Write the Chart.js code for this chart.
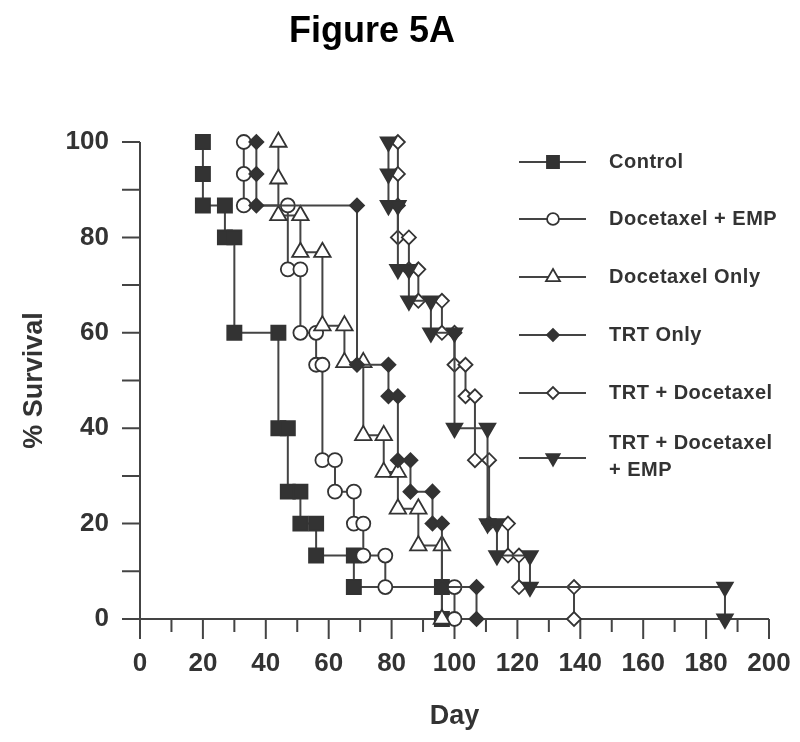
<!DOCTYPE html>
<html>
<head>
<meta charset="utf-8">
<script src="https://cdn.jsdelivr.net/npm/chart.js@4.4.1/dist/chart.umd.min.js"></script>
<style>
  html, body { margin: 0; padding: 0; background: #fff; }
  #wrap { position: relative; width: 800px; height: 742px; }
  #titulo { position: absolute; left: 0; top: 9px; width: 744px; text-align: center;
            font: bold 36px "Liberation Sans", Arial, sans-serif; color: #000; }
  canvas { position: absolute; left: 0; top: 0; }
</style>
</head>
<body>
<div id="wrap">
  <canvas id="grafico" width="800" height="742"></canvas>
  <div id="titulo">Figure 5A</div>
</div>
<script>
// dias e % de sobrevida (cada degrau tem os dois cantos)
const controlDays = [20, 20, 20, 27, 27, 30, 30, 44, 44, 47, 47, 51, 51, 56, 56, 68, 68, 96, 96];
const controlSurv = [100, 93.3, 86.7, 86.7, 80, 80, 60, 60, 40, 40, 26.7, 26.7, 20, 20, 13.3, 13.3, 6.7, 6.7, 0];

const docEmpDays = [33, 33, 33, 47, 47, 51, 51, 56, 56, 58, 58, 62, 62, 68, 68, 71, 71, 78, 78, 100, 100];
const docEmpSurv = [100, 93.3, 86.7, 86.7, 73.3, 73.3, 60, 60, 53.3, 53.3, 33.3, 33.3, 26.7, 26.7, 20, 20, 13.3, 13.3, 6.7, 6.7, 0];

const docOnlyDays = [44, 44, 44, 51, 51, 58, 58, 65, 65, 71, 71, 77.5, 77.5, 82, 82, 88.5, 88.5, 96, 96];
const docOnlySurv = [100, 92.3, 84.6, 84.6, 76.9, 76.9, 61.5, 61.5, 53.8, 53.8, 38.5, 38.5, 30.8, 30.8, 23.1, 23.1, 15.4, 15.4, 0];

const trtOnlyDays = [37, 37, 37, 69, 69, 79, 79, 82, 82, 86, 86, 93, 93, 96, 96, 107, 107];
const trtOnlySurv = [100, 93.3, 86.7, 86.7, 53.3, 53.3, 46.7, 46.7, 33.3, 33.3, 26.7, 26.7, 20, 20, 6.7, 6.7, 0];

const trtDocDays = [82, 82, 82, 82, 85.5, 85.5, 88.5, 88.5, 96, 96, 100, 100, 103.5, 103.5, 106.5, 106.5, 111, 111, 117, 117, 120.5, 120.5, 138, 138];
const trtDocSurv = [100, 93.3, 86.7, 80, 80, 73.3, 73.3, 66.7, 66.7, 60, 60, 53.3, 53.3, 46.7, 46.7, 33.3, 33.3, 20, 20, 13.3, 13.3, 6.7, 6.7, 0];

const trtDocEmpDays = [79, 79, 79, 82, 82, 85.5, 85.5, 92.5, 92.5, 100, 100, 110.5, 110.5, 113.5, 113.5, 124, 124, 186, 186];
const trtDocEmpSurv = [100, 93.3, 86.7, 86.7, 73.3, 73.3, 66.7, 66.7, 60, 60, 40, 40, 20, 20, 13.3, 13.3, 6.7, 6.7, 0];

const xTicks = [0, 20, 40, 60, 80, 100, 120, 140, 160, 180, 200];
const yTicks = [0, 20, 40, 60, 80, 100];
const legendLabels = [["Control"], ["Docetaxel + EMP"], ["Docetaxel Only"], ["TRT Only"], ["TRT + Docetaxel"], ["TRT + Docetaxel", "+ EMP"]];

const FONTE = '"Liberation Sans", Arial, sans-serif';
const COR_LINHA = "#444";
const COR_MARCA = "#333";

function serie(label, days, surv, estilo, raio, preenchimento, rotacao, ordem) {
  return {
    label: label,
    data: days.map((d, i) => ({ x: d, y: surv[i] })),
    showLine: true,
    borderColor: COR_LINHA,
    borderWidth: 2,
    pointStyle: estilo,
    pointRadius: raio,
    pointHoverRadius: raio,
    pointRotation: rotacao,
    pointBackgroundColor: preenchimento,
    pointBorderColor: COR_MARCA,
    pointBorderWidth: 1.8,
    clip: false,
    order: ordem
  };
}

const eixos = {
  id: "eixos",
  beforeDatasetsDraw(chart) {
    const { ctx, scales: { x, y } } = chart;
    const x0 = x.getPixelForValue(0), x1 = x.getPixelForValue(200);
    const y0 = y.getPixelForValue(0), y1 = y.getPixelForValue(100);
    ctx.save();
    ctx.strokeStyle = COR_LINHA;
    ctx.lineWidth = 2;
    ctx.beginPath();
    ctx.moveTo(x0, y1);
    ctx.lineTo(x0, y0);
    ctx.lineTo(x1, y0);
    for (let v = 0; v <= 100; v += 10) {
      const py = y.getPixelForValue(v);
      ctx.moveTo(x0 - 18, py);
      ctx.lineTo(x0, py);
    }
    for (let d = 0; d <= 200; d += 10) {
      const px = x.getPixelForValue(d);
      ctx.moveTo(px, y0);
      ctx.lineTo(px, y0 + (d % 20 === 0 ? 20 : 13));
    }
    ctx.stroke();
    ctx.restore();
  }
};

const legenda = {
  id: "legenda",
  afterDatasetsDraw(chart) {
    const { ctx } = chart;
    const linhasY = [162, 219, 277, 335, 393, 458];
    ctx.save();
    chart.data.datasets.forEach((ds, i) => {
      const yy = linhasY[i];
      ctx.strokeStyle = COR_LINHA;
      ctx.lineWidth = 2;
      ctx.beginPath();
      ctx.moveTo(519, yy);
      ctx.lineTo(586, yy);
      ctx.stroke();
      ctx.fillStyle = ds.pointBackgroundColor;
      ctx.strokeStyle = COR_MARCA;
      ctx.lineWidth = ds.pointBorderWidth;
      Chart.helpers.drawPoint(ctx, {
        pointStyle: ds.pointStyle,
        radius: ds.pointRadius * 0.85,
        rotation: ds.pointRotation,
        borderWidth: ds.pointBorderWidth
      }, 553, yy);
      ctx.fillStyle = "#333";
      ctx.font = "bold 20px " + FONTE;
      ctx.textBaseline = "middle";
      ctx.textAlign = "left";
      ctx.letterSpacing = "0.5px";
      const txt = legendLabels[i];
      if (txt.length === 1) {
        ctx.fillText(txt[0], 609, yy);
      } else {
        ctx.fillText(txt[0], 609, yy - 15);
        ctx.fillText(txt[1], 609, yy + 12);
      }
    });
    ctx.restore();
  }
};

new Chart(document.getElementById("grafico"), {
  type: "scatter",
  data: {
    datasets: [
      serie("Control", controlDays, controlSurv, "rect", 10, COR_MARCA, 0, 6),
      serie("Docetaxel + EMP", docEmpDays, docEmpSurv, "circle", 7, "#fff", 0, 5),
      serie("Docetaxel Only", docOnlyDays, docOnlySurv, "triangle", 9.5, "#fff", 0, 4),
      serie("TRT Only", trtOnlyDays, trtOnlySurv, "rectRot", 7, COR_MARCA, 0, 3),
      serie("TRT + Docetaxel", trtDocDays, trtDocSurv, "rectRot", 7, "#fff", 0, 2),
      serie("TRT + Docetaxel + EMP", trtDocEmpDays, trtDocEmpSurv, "triangle", 9, COR_MARCA, 180, 1)
    ]
  },
  options: {
    responsive: false,
    animation: false,
    devicePixelRatio: 1,
    layout: { padding: { top: 142, right: 31, bottom: 0, left: 0 } },
    plugins: {
      legend: { display: false },
      tooltip: { enabled: false },
      title: { display: false }
    },
    scales: {
      x: {
        type: "linear",
        min: 0,
        max: 200,
        grid: { display: false },
        border: { display: false },
        afterBuildTicks: s => { s.ticks = xTicks.map(v => ({ value: v })); },
        afterFit: s => { s.height = 123; s.paddingLeft = 0; s.paddingRight = 0; },
        ticks: { color: "#333", padding: 21, maxRotation: 0, autoSkip: false, font: { family: FONTE, size: 26, weight: "bold" } },
        title: { display: true, text: "Day", color: "#333", padding: { top: 0, bottom: 9 }, font: { family: FONTE, size: 27, weight: "bold" } }
      },
      y: {
        type: "linear",
        min: 0,
        max: 100,
        grid: { display: false },
        border: { display: false },
        afterBuildTicks: s => { s.ticks = yTicks.map(v => ({ value: v })); },
        afterFit: s => { s.width = 140; s.paddingTop = 0; s.paddingBottom = 0; },
        ticks: { color: "#333", padding: 23, autoSkip: false, font: { family: FONTE, size: 26, weight: "bold" } },
        title: { display: true, text: "% Survival", color: "#333", padding: { top: 18, bottom: 0 }, font: { family: FONTE, size: 27, weight: "bold" } }
      }
    }
  },
  plugins: [eixos, legenda]
});
</script>
</body>
</html>
